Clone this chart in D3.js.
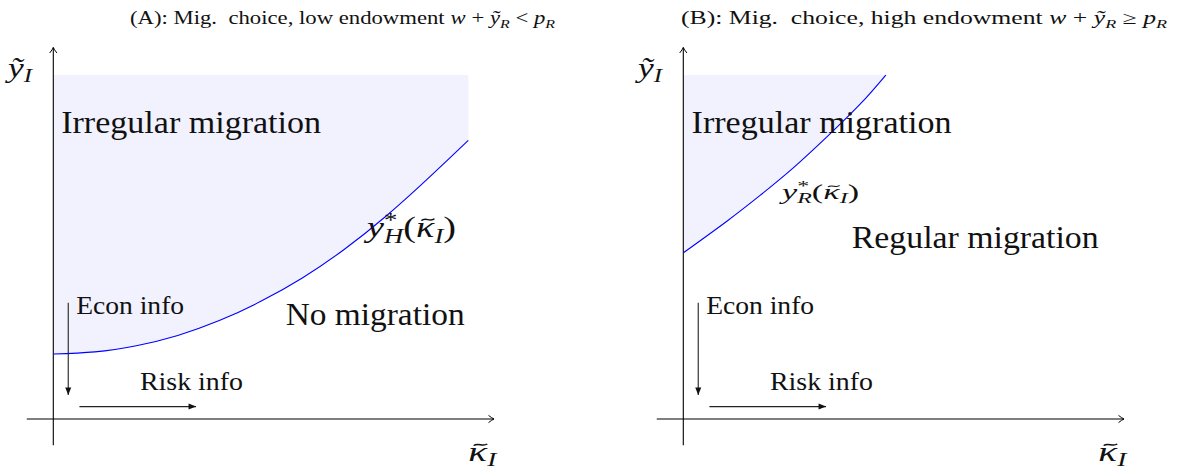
<!DOCTYPE html>
<html>
<head>
<meta charset="utf-8">
<script src="https://cdn.jsdelivr.net/npm/d3@7"></script>
<style>
  body { margin: 0; background: #fff; }
  text { font-family: 'Liberation Serif', 'DejaVu Serif', serif; fill: #111; white-space: pre; }
</style>
</head>
<body>
<svg id="chart" width="1196" height="468"></svg>
<script>
const svg = d3.select('#chart')
const width = 1196
const height = 468

// curve of panel A: threshold y*_H as function of kappa
const kappaA = [0, 1, 2, 3, 4, 5, 6, 7, 8, 9, 10]
const yStarH = [1.89, 1.95, 2.13, 2.43, 2.86, 3.42, 4.1, 4.92, 5.88, 6.96, 8.1]

// curve of panel B: threshold y*_R
const kappaB = [0, 1.05, 1.85, 2.65, 3.46, 4.26, 4.88]
const yStarR = [4.83, 5.75, 6.5, 7.3, 8.2, 9.15, 10]

const yTop = 10      // upper edge of the shaded area

const shade = '#f2f2ff'
const curveColor = '#0000ff'

// both panels use the same units, only shifted
const yScale = d3.scaleLinear().domain([0, 10]).range([419, 75])
const xScaleA = d3.scaleLinear().domain([0, 10]).range([53.3, 468.3])
const xScaleB = d3.scaleLinear().domain([0, 10]).range([683.3, 1098.3])

// arrow heads
const defs = svg.append('defs')
defs.append('marker')
  .attr('id', 'axisTip')
  .attr('markerUnits', 'userSpaceOnUse')
  .attr('viewBox', '-10 -6 12 12')
  .attr('refX', 0).attr('refY', 0)
  .attr('markerWidth', 12).attr('markerHeight', 12)
  .attr('orient', 'auto')
  .append('path')
    .attr('d', 'M-5.5,-3.6 Q-2,-0.8 0,0 Q-2,0.8 -5.5,3.6')
    .attr('fill', 'none')
    .attr('stroke', '#000')
    .attr('stroke-width', 1)
defs.append('marker')
  .attr('id', 'smallTip')
  .attr('markerUnits', 'userSpaceOnUse')
  .attr('viewBox', '-10 -6 12 12')
  .attr('refX', 0).attr('refY', 0)
  .attr('markerWidth', 12).attr('markerHeight', 12)
  .attr('orient', 'auto')
  .append('path')
    .attr('d', 'M0,0 L-7.5,-3 L-7.5,3 Z')
    .attr('fill', '#111')

// text with sub/superscripts, measured piece by piece
function mathText(parent, x, y, pieces, size, targetWidth) {
  const outer = parent.append('g').attr('transform', `translate(${x},${y})`)
  const g = outer.append('g')
  let cx = 0
  let held = 0
  pieces.forEach(p => {
    const small = p.sub || p.sup
    const fs = small ? size * 0.7 : size
    const dy = p.sub ? size * 0.2 : p.sup ? -size * 0.36 : 0
    const t = g.append('text')
      .attr('x', cx)
      .attr('y', dy)
      .style('font-size', fs + 'px')
      .style('font-style', p.i ? 'italic' : 'normal')
      .text(p.t)
    const w = t.node().getComputedTextLength()
    if (p.tilde) {
      // accent drawn as a small wave over the letter
      const a = fs * 0.17
      const b = fs * 0.07
      const tx = cx + w / 2 + fs * 0.07
      const ty = dy - fs * 0.6
      g.append('path')
        .attr('transform', `translate(${tx},${ty})`)
        .attr('d', `M${-a},${b * 0.5} C${-a * 0.4},${-b * 1.4} ${a * 0.4},${b * 1.4} ${a},${-b * 0.5}`)
        .attr('fill', 'none')
        .attr('stroke', '#111')
        .attr('stroke-width', fs * 0.05)
    }
    if (p.hold) {
      held = w
    } else {
      cx += Math.max(w, held)
      held = 0
    }
  })
  if (targetWidth) {
    g.attr('transform', `scale(${targetWidth / cx},1)`)
  }
  return outer
}

const yTilde = '\u1EF9'

function drawPanel(xScale, kappa, yStar, opt) {
  const g = svg.append('g')

  // shaded region above the threshold curve
  const pts = kappa.map((k, i) => [k, yStar[i]])
  const area = d3.area()
    .x(d => xScale(d[0]))
    .y0(yScale(yTop))
    .y1(d => yScale(d[1]))
    .curve(d3.curveNatural)
  g.append('path')
    .attr('d', area(pts))
    .attr('fill', shade)

  // axes
  g.append('line')
    .attr('x1', xScale(-0.64)).attr('x2', xScale(10.62))
    .attr('y1', yScale(0)).attr('y2', yScale(0))
    .attr('stroke', '#000').attr('stroke-width', 1.1)
    .attr('marker-end', 'url(#axisTip)')
  g.append('line')
    .attr('x1', xScale(0)).attr('x2', xScale(0))
    .attr('y1', yScale(-0.76)).attr('y2', yScale(10.8))
    .attr('stroke', '#000').attr('stroke-width', 1.1)
    .attr('marker-end', 'url(#axisTip)')

  // threshold curve
  const line = d3.line()
    .x(d => xScale(d[0]))
    .y(d => yScale(d[1]))
    .curve(d3.curveNatural)
  g.append('path')
    .attr('d', line(pts))
    .attr('fill', 'none')
    .attr('stroke', curveColor)
    .attr('stroke-width', 1.1)

  // info arrows
  g.append('line')
    .attr('x1', xScale(0.36)).attr('x2', xScale(0.36))
    .attr('y1', yScale(3.38)).attr('y2', yScale(0.7))
    .attr('stroke', '#222').attr('stroke-width', 1.1)
    .attr('marker-end', 'url(#smallTip)')
  g.append('line')
    .attr('x1', xScale(0.63)).attr('x2', xScale(3.44))
    .attr('y1', yScale(0.36)).attr('y2', yScale(0.36))
    .attr('stroke', '#222').attr('stroke-width', 1.1)
    .attr('marker-end', 'url(#smallTip)')

  mathText(g, xScale(0.55), yScale(3.06), [{ t: 'Econ info' }], 26, 108)
  mathText(g, xScale(2.09), yScale(0.84), [{ t: 'Risk info' }], 26, 103)

  // axis names
  mathText(g, xScale(-1.09), yScale(9.94), [{ t: yTilde, i: true }, { t: 'I', i: true, sub: true }], 27, 24)
  mathText(g, xScale(10.0), yScale(-1.22), [{ t: '\u03BA', i: true, tilde: true }, { t: 'I', i: true, sub: true }], 27, 28)

  // region names
  opt.regions.forEach(r => {
    mathText(g, xScale(r.x), yScale(r.y), [{ t: r.name }], 31, r.w)
  })

  // curve name
  const c = opt.curveLabel
  mathText(g, xScale(c.x), yScale(c.y), [
    { t: 'y', i: true },
    { t: '*', sup: true, hold: true },
    { t: c.sub, i: true, sub: true },
    { t: '(' },
    { t: '\u03BA', i: true, tilde: true },
    { t: 'I', i: true, sub: true },
    { t: ')' }
  ], c.size, c.w)

  // title
  mathText(svg, opt.titleX, 24, [
    { t: opt.title },
    { t: 'w', i: true },
    { t: ' + ' },
    { t: yTilde, i: true },
    { t: 'R', i: true, sub: true },
    { t: opt.rel },
    { t: 'p', i: true },
    { t: 'R', i: true, sub: true }
  ], 18, opt.titleW)
}

drawPanel(xScaleA, kappaA, yStarH, {
  title: '(A): Mig.  choice, low endowment ',
  rel: ' < ',
  titleX: 130,
  titleW: 425,
  regions: [
    { name: 'Irregular migration', x: 0.19, y: 8.3, w: 260 },
    { name: 'No migration', x: 5.6, y: 2.73, w: 179 }
  ],
  curveLabel: { sub: 'H', x: 7.56, y: 5.29, size: 29, w: 89 }
})

drawPanel(xScaleB, kappaB, yStarR, {
  title: '(B): Mig.  choice, high endowment ',
  rel: ' \u2265 ',
  titleX: 681,
  titleW: 486,
  regions: [
    { name: 'Irregular migration', x: 0.2, y: 8.3, w: 260 },
    { name: 'Regular migration', x: 4.06, y: 4.96, w: 247 }
  ],
  curveLabel: { sub: 'R', x: 2.38, y: 6.4, size: 21, w: 77 }
})
</script>
</body>
</html>
